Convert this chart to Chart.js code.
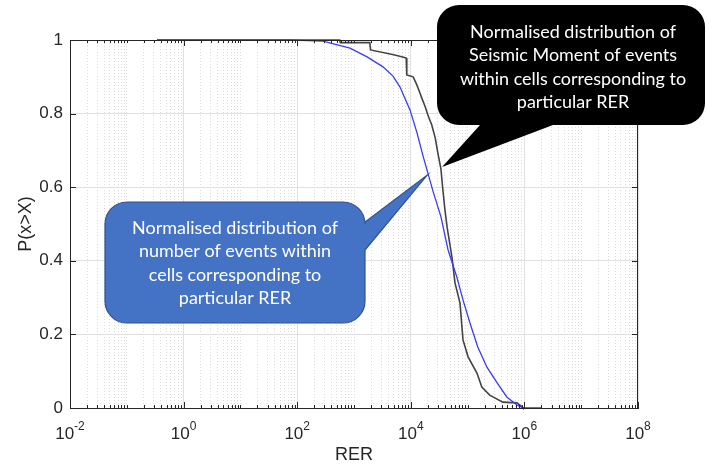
<!DOCTYPE html>
<html><head><meta charset="utf-8">
<script src="https://cdn.jsdelivr.net/npm/chart.js@4/dist/chart.umd.min.js"></script>
<style>html,body{margin:0;padding:0;background:#fff}canvas{display:block}</style>
</head><body>
<canvas id="c" width="707" height="468"></canvas>
<script>
// ---- data ----
const countRER = [0.34, 75, 112, 284, 850, 1700, 3240, 4860, 6460, 9680, 12900, 16400, 24500, 33900, 45200, 64600, 83200, 110000, 151000, 219000, 331000, 490000, 741000, 944000];
const countP   = [1, 1, 0.999, 0.997, 0.978, 0.954, 0.927, 0.902, 0.872, 0.81, 0.747, 0.685, 0.59, 0.52, 0.43, 0.356, 0.293, 0.231, 0.166, 0.111, 0.068, 0.030, 0.008, 0];
const momentRER = [0.34, 560, 575, 1900, 1950, 5000, 7200, 8300, 8500, 11000, 12600, 14500, 15800, 17800, 20000, 23400, 26900, 30200, 33900, 36300, 39800, 43700, 53000, 60000, 73500, 83000, 102000, 146000, 178000, 245000, 417000, 740000, 912000, 944000, 2040000];
const momentP   = [1, 1, 0.993, 0.993, 0.973, 0.96, 0.954, 0.951, 0.905, 0.90, 0.88, 0.856, 0.84, 0.82, 0.796, 0.769, 0.734, 0.69, 0.65, 0.60, 0.54, 0.49, 0.41, 0.34, 0.285, 0.185, 0.139, 0.095, 0.057, 0.035, 0.016, 0.014, 0.003, 0, 0];
const xMajorTicks = [0.01, 1, 100, 1e4, 1e6, 1e8];
const xTickBase = ['10','10','10','10','10','10'];
const xTickExp  = ['-2','0','2','4','6','8'];
const yTicks = [0, 0.2, 0.4, 0.6, 0.8, 1];
const yTickLabels = ['0','0.2','0.4','0.6','0.8','1'];
const mantissas = [2,3,4,5,6,7,8,9];
const decades = [0.01,0.1,1,10,100,1e3,1e4,1e5,1e6,1e7];
const oddDecades = [0.1,10,1e3,1e5,1e7];
const calloutCount = ['Normalised distribution of','number of events within','cells corresponding to','particular RER'];
const calloutMoment = ['Normalised distribution of','Seismic Moment of events','within cells corresponding to','particular RER'];
const countTip = {x: 19500, y: 0.633};
const momentTip = {x: 35500, y: 0.655};

const minorTicks = [];
decades.forEach(d => mantissas.forEach(m => minorTicks.push(+(m*d).toPrecision(3))));
oddDecades.forEach(d => minorTicks.push(d));

const AX = '#262626';
const FONT = '"Liberation Sans", Arial, sans-serif';

const overlay = {
  id: 'overlay',
  afterDraw(chart) {
    const ctx = chart.ctx, a = chart.chartArea;
    const xs = chart.scales.x, ys = chart.scales.y;
    ctx.save();
    ctx.strokeStyle = AX; ctx.lineWidth = 1;
    ctx.strokeRect(a.left + 0.5, a.top + 0.5, a.right - a.left - 1, a.bottom - a.top);
    ctx.beginPath();
    xMajorTicks.forEach(v => {
      const p = Math.round(xs.getPixelForValue(v)) + 0.5;
      ctx.moveTo(p, a.bottom); ctx.lineTo(p, a.bottom - 6);
      ctx.moveTo(p, a.top); ctx.lineTo(p, a.top + 6);
    });
    minorTicks.forEach(v => {
      const p = Math.round(xs.getPixelForValue(v)) + 0.5;
      ctx.moveTo(p, a.bottom); ctx.lineTo(p, a.bottom - 3);
      ctx.moveTo(p, a.top); ctx.lineTo(p, a.top + 3);
    });
    yTicks.forEach(v => {
      const p = Math.round(ys.getPixelForValue(v)) + 0.5;
      ctx.moveTo(a.left, p); ctx.lineTo(a.left + 6, p);
      ctx.moveTo(a.right, p); ctx.lineTo(a.right - 6, p);
    });
    ctx.stroke();
    ctx.fillStyle = AX; ctx.textBaseline = 'alphabetic'; ctx.textAlign = 'left';
    xMajorTicks.forEach((v, i) => {
      const p = xs.getPixelForValue(v);
      ctx.font = '17px ' + FONT; const wb = ctx.measureText(xTickBase[i]).width;
      ctx.font = '12px ' + FONT; const we = ctx.measureText(xTickExp[i]).width;
      const s = p - (wb + we) / 2;
      ctx.font = '17px ' + FONT; ctx.fillText(xTickBase[i], s, 439);
      ctx.font = '12px ' + FONT; ctx.fillText(xTickExp[i], s + wb, 430);
    });
    ctx.font = '16px Lato';
    const fs = 16 * 206 / ctx.measureText('Normalised distribution of').width;
    function rr(x0, y0, x1, y1, r, ptr) {
      ctx.beginPath();
      ctx.moveTo(x0 + r, y0); ctx.lineTo(x1 - r, y0); ctx.arcTo(x1, y0, x1, y0 + r, r);
      if (ptr.side === 'right') { ctx.lineTo(x1, ptr.a); ctx.lineTo(ptr.tx, ptr.ty); ctx.lineTo(x1, ptr.b); }
      ctx.lineTo(x1, y1 - r); ctx.arcTo(x1, y1, x1 - r, y1, r);
      if (ptr.side === 'bottom') { ctx.lineTo(ptr.b, y1); ctx.lineTo(ptr.tx, ptr.ty); ctx.lineTo(ptr.a, y1); }
      ctx.lineTo(x0 + r, y1); ctx.arcTo(x0, y1, x0, y1 - r, r);
      ctx.lineTo(x0, y0 + r); ctx.arcTo(x0, y0, x0 + r, y0, r);
      ctx.closePath();
    }
    rr(105, 202, 365, 323, 22, {side: 'right', a: 222, b: 250, tx: xs.getPixelForValue(countTip.x), ty: ys.getPixelForValue(countTip.y)});
    ctx.fillStyle = '#4472C4'; ctx.fill();
    ctx.strokeStyle = '#2F528F'; ctx.lineWidth = 1.2; ctx.stroke();
    ctx.fillStyle = '#ffffff'; ctx.textAlign = 'center'; ctx.textBaseline = 'middle';
    ctx.font = fs + 'px Lato';
    calloutCount.forEach((t, i) => ctx.fillText(t, 235, 228 + i * 23.4));
    rr(437, 5, 705, 125, 22, {side: 'bottom', a: 480, b: 553, tx: xs.getPixelForValue(momentTip.x), ty: ys.getPixelForValue(momentTip.y)});
    ctx.fillStyle = '#000000'; ctx.fill();
    ctx.fillStyle = '#ffffff';
    calloutMoment.forEach((t, i) => ctx.fillText(t, 573, 32 + i * 23.4));
    ctx.restore();
  }
};

new Chart(document.getElementById('c'), {
  type: 'line',
  data: {
    datasets: [
      {label: 'Number of events', data: countRER.map((x, i) => ({x, y: countP[i]})), borderColor: '#3a3aff', borderWidth: 1.3, pointRadius: 0, tension: 0, fill: false, xAxisID: 'x', yAxisID: 'y', clip: 4},
      {label: 'Seismic moment', data: momentRER.map((x, i) => ({x, y: momentP[i]})), borderColor: '#444444', borderWidth: 1.6, pointRadius: 0, tension: 0, fill: false, xAxisID: 'x', yAxisID: 'y', clip: 4}
    ]
  },
  options: {
    responsive: false, animation: false, devicePixelRatio: 1, events: [],
    layout: {padding: {top: 40, right: 69, left: 0, bottom: 0}},
    plugins: {legend: {display: false}, tooltip: {enabled: false}},
    scales: {
      x: {
        type: 'logarithmic', position: 'bottom', min: 0.01, max: 1e8,
        afterBuildTicks: s => { s.ticks = xMajorTicks.map(v => ({value: v, major: true})); },
        afterFit: s => { s.height = 60; },
        ticks: {display: false},
        grid: {color: '#e0e0e0', lineWidth: 1, drawTicks: false},
        border: {color: AX, width: 1},
        title: {display: true, text: 'RER', color: AX, font: {family: FONT, size: 18}, padding: {top: 0, bottom: 2}}
      },
      x2: {
        type: 'logarithmic', position: 'bottom', min: 0.01, max: 1e8,
        afterBuildTicks: s => { s.ticks = minorTicks.map(v => ({value: v})); },
        afterFit: s => { s.height = 0; },
        ticks: {display: false},
        grid: {color: '#dcdcdc', lineWidth: 1, drawTicks: false},
        border: {display: false, dash: [1, 2]}
      },
      y: {
        type: 'linear', position: 'left', min: 0, max: 1,
        afterBuildTicks: s => { s.ticks = yTicks.map(v => ({value: v})); },
        afterFit: s => { s.width = 70; },
        ticks: {color: AX, font: {family: FONT, size: 17}, padding: 7, callback: (v, i) => yTickLabels[i]},
        grid: {color: '#e0e0e0', lineWidth: 1, drawTicks: false},
        border: {color: AX, width: 1},
        title: {display: true, text: 'P(x>X)', color: AX, font: {family: FONT, size: 18}, padding: {top: 15, bottom: 0}}
      }
    }
  },
  plugins: [overlay]
});
</script>
</body></html>
